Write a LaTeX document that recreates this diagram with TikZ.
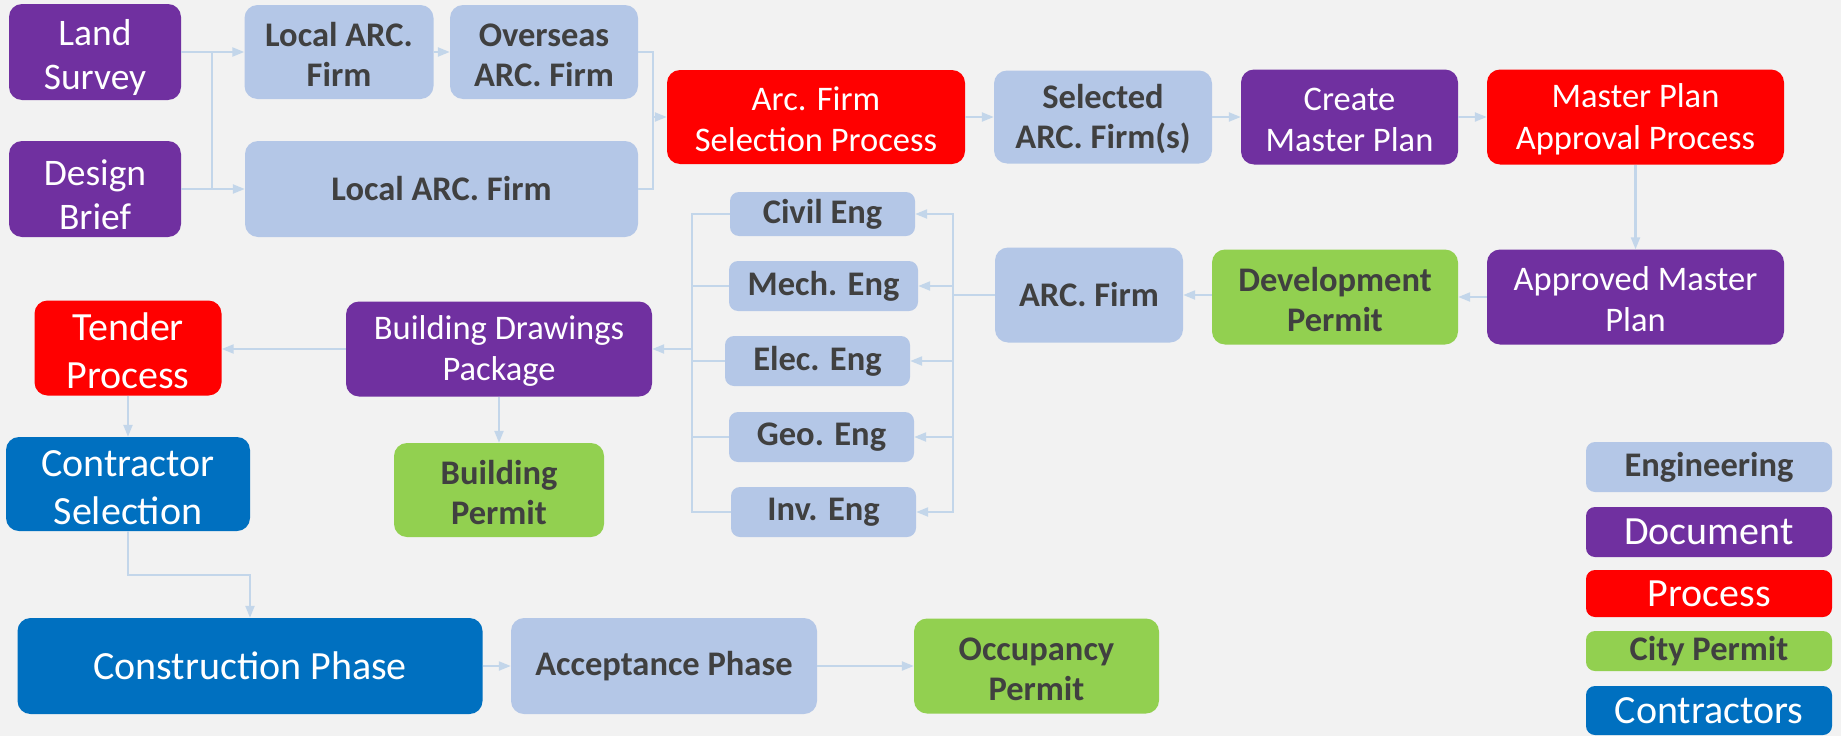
\documentclass[tikz,border=0pt]{standalone}
\usepackage{fontspec}
\setmainfont{Carlito}
\usetikzlibrary{arrows.meta}
\definecolor{bgc}{HTML}{F2F2F2}
\definecolor{engc}{HTML}{B4C7E7}
\definecolor{docc}{HTML}{7030A0}
\definecolor{proc}{HTML}{FF0000}
\definecolor{permc}{HTML}{92D050}
\definecolor{ctrc}{HTML}{0070C0}
\definecolor{txtd}{HTML}{404040}
\definecolor{linec}{HTML}{C3D6EA}
\newcommand\tw[3][0.82em]{\rule{0pt}{#1}#2\\#3}
\tikzset{
  box/.style={rounded corners=13pt, inner sep=0pt, align=center},
  sz/.style 2 args={minimum width=#1pt, minimum height=#2pt},
  engbox/.style={box, fill=engc, text=txtd, font={\fontsize{34.5}{40}\selectfont\bfseries}},
  permbox/.style={box, fill=permc, text=txtd, font={\fontsize{34.5}{40}\selectfont\bfseries}},
  docbox/.style={box, fill=docc, text=white, font={\fontsize{34.5}{41.5}\selectfont}},
  probox/.style={box, fill=proc, text=white, font={\fontsize{34.5}{41.5}\selectfont}},
  ctrbox/.style={box, fill=ctrc, text=white, font={\fontsize{40}{47.5}\selectfont}},
  bigfont/.style={font={\fontsize{40}{47.5}\selectfont}},
  conn/.style={draw=linec, line width=2.2pt},
  arr/.style={conn, -{Triangle[length=12pt,width=9pt]}},
}
\begin{document}
\begin{tikzpicture}[x=1pt,y=-1pt]
\fill[bgc] (0,0) rectangle (1841,736);
\useasboundingbox (0,0) rectangle (1841,736);

% row 1
\node[docbox, sz={172}{96}, font={\fontsize{37.5}{44}\selectfont}] (ls) at (95,52) {\tw[1em]{Land}{Survey}};
\node[docbox, sz={172}{96}, font={\fontsize{37.5}{44}\selectfont}] (db) at (95,189) {\tw[1em]{Design}{Brief}};
\node[engbox, sz={189}{94}] (la1) at (339,52) {\tw{Local ARC.}{Firm}};
\node[engbox, sz={188}{94}] (ov) at (544,52) {\tw{Overseas}{ARC. Firm}};
\node[engbox, sz={393}{96}] (la2) at (441.5,189) {Local ARC. Firm};
\node[probox, sz={298}{94}] (afs) at (816,117) {\tw{Arc. Firm}{Selection Process}};
\node[engbox, sz={218}{93}] (sel) at (1103,117) {\tw{Selected}{ARC. Firm(s)}};
\node[docbox, sz={217}{95}] (cmp) at (1349.5,117) {\tw{Create}{Master Plan}};
\node[probox, sz={297}{95}] (mpa) at (1635.5,117) {\tw{Master Plan}{Approval Process}};

% row 2
\node[docbox, sz={297}{95}] (amp) at (1635.5,297) {\tw{Approved Master}{Plan}};
\node[permbox, sz={246}{95}] (dp) at (1335,297) {\tw{Development}{Permit}};
\node[engbox, sz={188}{95}] (arc) at (1089,295) {ARC. Firm};

\node[engbox, sz={185}{44}, rounded corners=9pt] (civ) at (822.5,214) {Civil Eng};
\node[engbox, sz={189}{50}, rounded corners=9pt] (mech) at (823.5,286) {Mech. Eng};
\node[engbox, sz={185}{50}, rounded corners=9pt] (elec) at (817.5,361) {Elec. Eng};
\node[engbox, sz={185}{50}, rounded corners=9pt] (geo) at (821.5,437) {Geo. Eng};
\node[engbox, sz={185}{50}, rounded corners=9pt] (inv) at (823.5,512) {Inv. Eng};

\node[docbox, sz={306}{95}] (bdp) at (499,349) {\tw{Building Drawings}{Package}};
\node[probox, sz={187}{95}, bigfont] (tp) at (128,348) {\tw{Tender}{Process}};
\node[ctrbox, sz={244}{94}] (cs) at (128,484) {\tw{Contractor}{Selection}};
\node[permbox, sz={210}{94}] (bp) at (499,490) {\tw{Building}{Permit}};

% row 3
\node[ctrbox, sz={465}{96}] (con) at (250,666) {Construction Phase};
\node[engbox, sz={306}{96}] (acc) at (664,666) {Acceptance Phase};
\node[permbox, sz={245}{95}] (occ) at (1036.5,666) {\tw{Occupancy}{Permit}};

% legend
\node[engbox, sz={246}{50}, rounded corners=9pt] (lg1) at (1709,467) {Engineering};
\node[docbox, sz={246}{50}, rounded corners=9pt, bigfont] (lg2) at (1709,532) {Document};
\node[probox, sz={246}{47}, rounded corners=9pt, bigfont] (lg3) at (1709,593.5) {Process};
\node[permbox, sz={246}{40}, rounded corners=9pt] (lg4) at (1709,651) {City Permit};
\node[ctrbox, sz={246}{49}, rounded corners=9pt] (lg5) at (1709,710.5) {Contractors};

% connectors
\coordinate (b1) at (212,52);
\coordinate (b2) at (212,189);
\draw[conn] (b1) -- (b2);
\draw[arr] (ls.east) -- (la1.west);
\draw[arr] (db.east) -- (la2.west);
\draw[arr] (la1.east) -- (ov.west);
\coordinate (j1) at (653,117);
\draw[conn] (ov.east) -| (j1);
\draw[conn] (la2.east) -| (j1);
\draw[arr] (j1) -- (afs.west);
\draw[arr] (afs.east) -- (sel.west);
\draw[arr] (sel.east) -- (cmp.west);
\draw[arr] (cmp.east) -- (mpa.west);
\draw[arr] (mpa.south) -- (amp.north);
\draw[arr] (amp.west) -- (dp.east |- amp.west);
\draw[arr] (dp.west |- arc.east) -- (arc.east);

\coordinate (rb) at (953,295);
\draw[conn] (arc.west) -- (rb);
\foreach \e in {civ,mech,elec,geo,inv} {\draw[arr] (rb) |- (\e.east);}
\coordinate (lb) at (692,349);
\foreach \e in {civ,mech,elec,geo,inv} {\draw[conn] (\e.west) -| (lb);}
\draw[arr] (lb) -- (bdp.east);

\draw[arr] (bdp.west) -- (tp.east |- bdp.west);
\draw[arr] (tp.south) -- (cs.north);
\draw[arr] (bdp.south) -- (bp.north);
\coordinate (k1) at (128,575);
\draw[arr] (cs.south) -- (k1) -| (con.north);
\draw[arr] (con.east) -- (acc.west);
\draw[arr] (acc.east) -- (occ.west);
\end{tikzpicture}
\end{document}
